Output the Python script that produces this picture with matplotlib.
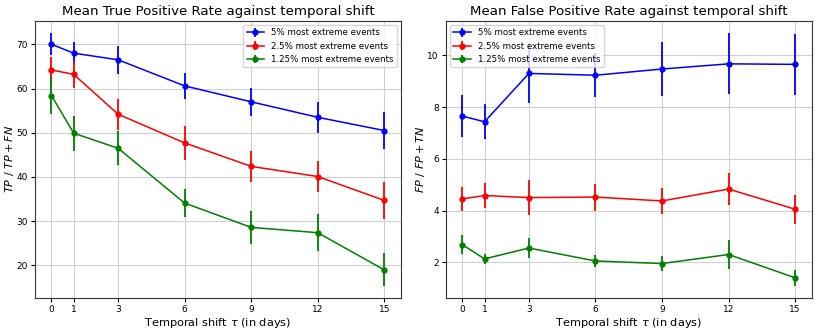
import matplotlib
matplotlib.use('Agg')
import matplotlib.pyplot as plt

# %%
shifts = [0, 1, 3, 6, 9, 12, 15]
labels = ['5% most extreme events', '2.5% most extreme events', '1.25% most extreme events']
colors = ['b', 'r', 'g']

# true positive rate (mean, std)
tpr_5 = [70.0, 68.0, 66.5, 60.6, 57.0, 53.5, 50.5]
tpr_5_err = [2.5, 2.5, 3.2, 3.0, 3.1, 3.5, 4.2]
tpr_25 = [64.2, 63.2, 54.2, 47.7, 42.4, 40.1, 34.7]
tpr_25_err = [3.0, 3.1, 3.5, 3.8, 3.5, 3.5, 4.1]
tpr_125 = [58.4, 49.9, 46.5, 34.1, 28.6, 27.4, 19.0]
tpr_125_err = [4.2, 4.0, 3.8, 3.1, 3.7, 4.2, 3.7]

# false positive rate (mean, std)
fpr_5 = [7.65, 7.43, 9.30, 9.23, 9.47, 9.67, 9.65]
fpr_5_err = [0.80, 0.68, 1.14, 0.86, 1.06, 1.18, 1.18]
fpr_25 = [4.45, 4.58, 4.50, 4.52, 4.37, 4.83, 4.05]
fpr_25_err = [0.47, 0.50, 0.67, 0.52, 0.50, 0.62, 0.56]
fpr_125 = [2.68, 2.13, 2.55, 2.05, 1.95, 2.30, 1.40]
fpr_125_err = [0.36, 0.20, 0.38, 0.25, 0.28, 0.57, 0.32]

# %%
def plot_rates(ax, series, errs, title, ylabel, legend_loc):
    for vals, err, lab, c in zip(series, errs, labels, colors):
        ax.errorbar(shifts, vals, yerr=err, fmt='-o', color=c, label=lab,
                    markersize=3.5, linewidth=1.1, elinewidth=1.3)
    ax.set_xticks(shifts)
    ax.grid(True, color='#d0d0d0', linewidth=0.8)
    ax.set_axisbelow(True)
    ax.set_title(title, fontsize=9.6, pad=4)
    ax.set_xlabel(r'Temporal shift $\tau$ (in days)', fontsize=8.2, labelpad=2)
    ax.set_ylabel(ylabel, fontsize=8, labelpad=0.5)
    ax.tick_params(labelsize=6.5, length=3, pad=2)
    for s in ax.spines.values():
        s.set_color('#333333')
    ax.legend(loc=legend_loc, fontsize=6.2)

fig = plt.figure(figsize=(8.3, 3.33), dpi=100)
ax1 = fig.add_axes([0.042, 0.106, 0.441, 0.832])
ax2 = fig.add_axes([0.537, 0.106, 0.441, 0.832])

plot_rates(ax1, [tpr_5, tpr_25, tpr_125], [tpr_5_err, tpr_25_err, tpr_125_err],
           'Mean True Positive Rate against temporal shift', r'$TP\ /\ TP + FN$', 'upper right')
ax1.set_ylim(12.7, 75.35)

plot_rates(ax2, [fpr_5, fpr_25, fpr_125], [fpr_5_err, fpr_25_err, fpr_125_err],
           'Mean False Positive Rate against temporal shift', r'$FP\ /\ FP + TN$', 'upper left')
ax2.set_ylim(0.63, 11.34)
ax2.set_yticks([2, 4, 6, 8, 10])

fig.savefig('out.png', dpi=100)
